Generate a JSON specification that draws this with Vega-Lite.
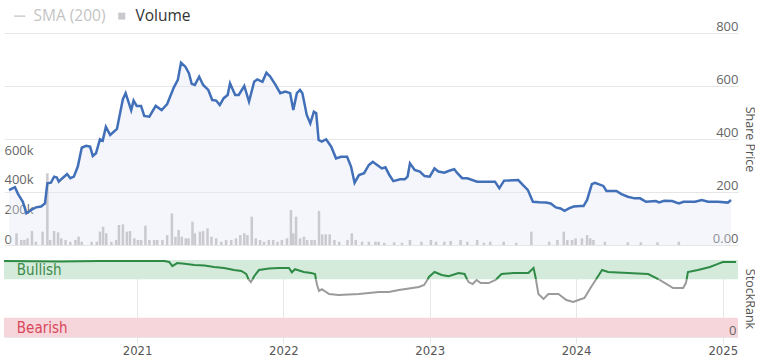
{
  "$schema": "https://vega.github.io/schema/vega-lite/v6.json",
  "padding": {"left": 0, "top": 8, "right": 0, "bottom": 0},
  "background": "white",
  "spacing": 11,
  "config": {"view": {"stroke": null}, "font": "Open Sans"},
  "datasets": {
    "price": [
      {"date":"2020-02-04","price":207},{"date":"2020-02-19","price":218},{"date":"2020-02-27","price":192},{"date":"2020-03-10","price":163},{"date":"2020-03-19","price":120},{"date":"2020-03-31","price":132},{"date":"2020-04-12","price":142},{"date":"2020-04-25","price":145},{"date":"2020-05-05","price":157},{"date":"2020-05-11","price":233},{"date":"2020-05-20","price":235},{"date":"2020-05-28","price":258},{"date":"2020-06-04","price":255},{"date":"2020-06-09","price":239},{"date":"2020-06-18","price":252},{"date":"2020-06-30","price":268},{"date":"2020-07-08","price":252},{"date":"2020-07-17","price":258},{"date":"2020-07-27","price":296},{"date":"2020-08-06","price":367},{"date":"2020-08-17","price":374},{"date":"2020-08-27","price":371},{"date":"2020-09-03","price":336},{"date":"2020-09-11","price":346},{"date":"2020-09-21","price":399},{"date":"2020-09-28","price":394},{"date":"2020-10-06","price":446},{"date":"2020-10-17","price":415},{"date":"2020-11-03","price":438},{"date":"2020-11-18","price":550},{"date":"2020-11-25","price":573},{"date":"2020-12-09","price":509},{"date":"2020-12-15","price":545},{"date":"2020-12-23","price":525},{"date":"2021-01-03","price":525},{"date":"2021-01-11","price":487},{"date":"2021-01-24","price":484},{"date":"2021-02-09","price":525},{"date":"2021-02-24","price":509},{"date":"2021-03-10","price":532},{"date":"2021-03-27","price":595},{"date":"2021-04-06","price":623},{"date":"2021-04-14","price":688},{"date":"2021-04-25","price":673},{"date":"2021-05-04","price":648},{"date":"2021-05-11","price":608},{"date":"2021-05-19","price":604},{"date":"2021-05-30","price":635},{"date":"2021-06-09","price":604},{"date":"2021-06-22","price":585},{"date":"2021-07-02","price":547},{"date":"2021-07-12","price":545},{"date":"2021-07-21","price":528},{"date":"2021-07-31","price":554},{"date":"2021-08-10","price":566},{"date":"2021-08-16","price":610},{"date":"2021-08-29","price":566},{"date":"2021-09-07","price":566},{"date":"2021-09-21","price":600},{"date":"2021-10-03","price":541},{"date":"2021-10-16","price":616},{"date":"2021-10-24","price":625},{"date":"2021-11-06","price":616},{"date":"2021-11-16","price":650},{"date":"2021-11-26","price":635},{"date":"2021-12-09","price":604},{"date":"2021-12-21","price":573},{"date":"2022-01-03","price":579},{"date":"2022-01-15","price":573},{"date":"2022-01-23","price":509},{"date":"2022-02-01","price":573},{"date":"2022-02-09","price":585},{"date":"2022-02-15","price":573},{"date":"2022-02-26","price":491},{"date":"2022-03-07","price":459},{"date":"2022-03-16","price":503},{"date":"2022-03-22","price":497},{"date":"2022-03-28","price":396},{"date":"2022-04-05","price":390},{"date":"2022-04-16","price":399},{"date":"2022-04-29","price":371},{"date":"2022-05-11","price":327},{"date":"2022-05-24","price":333},{"date":"2022-06-08","price":333},{"date":"2022-06-18","price":296},{"date":"2022-06-27","price":235},{"date":"2022-07-08","price":264},{"date":"2022-07-21","price":271},{"date":"2022-08-02","price":302},{"date":"2022-08-12","price":314},{"date":"2022-08-23","price":302},{"date":"2022-09-04","price":289},{"date":"2022-09-13","price":293},{"date":"2022-09-23","price":264},{"date":"2022-10-03","price":241},{"date":"2022-10-20","price":248},{"date":"2022-11-01","price":248},{"date":"2022-11-08","price":258},{"date":"2022-11-14","price":308},{"date":"2022-11-26","price":283},{"date":"2022-12-09","price":277},{"date":"2022-12-21","price":260},{"date":"2023-01-03","price":258},{"date":"2023-01-15","price":289},{"date":"2023-01-25","price":277},{"date":"2023-02-09","price":273},{"date":"2023-02-21","price":280},{"date":"2023-03-06","price":286},{"date":"2023-03-14","price":271},{"date":"2023-03-26","price":252},{"date":"2023-04-08","price":252},{"date":"2023-05-03","price":239},{"date":"2023-06-17","price":239},{"date":"2023-06-28","price":214},{"date":"2023-07-10","price":243},{"date":"2023-08-15","price":245},{"date":"2023-08-27","price":226},{"date":"2023-09-08","price":208},{"date":"2023-09-21","price":163},{"date":"2023-10-07","price":161},{"date":"2023-10-24","price":160},{"date":"2023-11-05","price":157},{"date":"2023-11-18","price":142},{"date":"2023-11-30","price":138},{"date":"2023-12-10","price":129},{"date":"2023-12-21","price":138},{"date":"2024-01-02","price":145},{"date":"2024-01-19","price":147},{"date":"2024-01-27","price":147},{"date":"2024-02-05","price":170},{"date":"2024-02-17","price":230},{"date":"2024-02-25","price":235},{"date":"2024-03-17","price":223},{"date":"2024-03-25","price":204},{"date":"2024-04-19","price":204},{"date":"2024-05-02","price":192},{"date":"2024-05-18","price":182},{"date":"2024-06-04","price":176},{"date":"2024-06-18","price":176},{"date":"2024-07-03","price":163},{"date":"2024-07-28","price":166},{"date":"2024-08-05","price":161},{"date":"2024-08-18","price":167},{"date":"2024-09-07","price":166},{"date":"2024-09-24","price":157},{"date":"2024-10-06","price":163},{"date":"2024-11-04","price":163},{"date":"2024-11-21","price":170},{"date":"2024-12-07","price":163},{"date":"2025-01-01","price":163},{"date":"2025-01-26","price":160},{"date":"2025-02-03","price":170}
    ],
    "volume": [
      {"date":"2020-02-23","vol":79000},{"date":"2020-03-06","vol":34000},{"date":"2020-03-14","vol":34000},{"date":"2020-03-22","vol":45000},{"date":"2020-04-02","vol":94000},{"date":"2020-04-12","vol":22000},{"date":"2020-04-29","vol":90000},{"date":"2020-05-11","vol":483000},{"date":"2020-05-18","vol":34000},{"date":"2020-05-28","vol":94000},{"date":"2020-06-07","vol":85000},{"date":"2020-06-15","vol":45000},{"date":"2020-06-26","vol":34000},{"date":"2020-07-08","vol":22000},{"date":"2020-07-21","vol":34000},{"date":"2020-07-29","vol":56000},{"date":"2020-08-06","vol":22000},{"date":"2020-08-31","vol":22000},{"date":"2020-09-13","vol":22000},{"date":"2020-09-21","vol":90000},{"date":"2020-09-29","vol":123000},{"date":"2020-10-07","vol":79000},{"date":"2020-10-20","vol":22000},{"date":"2020-11-01","vol":34000},{"date":"2020-11-08","vol":135000},{"date":"2020-11-18","vol":139000},{"date":"2020-11-28","vol":90000},{"date":"2020-12-06","vol":94000},{"date":"2020-12-17","vol":45000},{"date":"2020-12-26","vol":34000},{"date":"2021-01-03","vol":34000},{"date":"2021-01-14","vol":130000},{"date":"2021-01-24","vol":34000},{"date":"2021-02-05","vol":34000},{"date":"2021-02-13","vol":34000},{"date":"2021-02-26","vol":34000},{"date":"2021-03-10","vol":67000},{"date":"2021-03-22","vol":213000},{"date":"2021-03-31","vol":56000},{"date":"2021-04-08","vol":101000},{"date":"2021-04-16","vol":56000},{"date":"2021-04-26","vol":45000},{"date":"2021-05-03","vol":45000},{"date":"2021-05-13","vol":157000},{"date":"2021-05-19","vol":79000},{"date":"2021-06-01","vol":90000},{"date":"2021-06-09","vol":94000},{"date":"2021-06-20","vol":112000},{"date":"2021-06-30","vol":56000},{"date":"2021-07-12","vol":45000},{"date":"2021-07-25","vol":22000},{"date":"2021-08-06","vol":34000},{"date":"2021-08-19","vol":34000},{"date":"2021-08-31","vol":45000},{"date":"2021-09-11","vol":67000},{"date":"2021-09-21","vol":79000},{"date":"2021-09-29","vol":67000},{"date":"2021-10-10","vol":191000},{"date":"2021-10-20","vol":45000},{"date":"2021-10-31","vol":34000},{"date":"2021-11-10","vol":22000},{"date":"2021-11-22","vol":34000},{"date":"2021-12-03","vol":34000},{"date":"2021-12-14","vol":22000},{"date":"2021-12-25","vol":34000},{"date":"2022-01-07","vol":45000},{"date":"2022-01-17","vol":236000},{"date":"2022-01-23","vol":79000},{"date":"2022-01-30","vol":191000},{"date":"2022-02-09","vol":45000},{"date":"2022-02-19","vol":56000},{"date":"2022-02-27","vol":34000},{"date":"2022-03-10","vol":34000},{"date":"2022-03-18","vol":34000},{"date":"2022-03-29","vol":229000},{"date":"2022-04-06","vol":72000},{"date":"2022-04-15","vol":72000},{"date":"2022-04-25","vol":72000},{"date":"2022-05-07","vol":34000},{"date":"2022-05-19","vol":22000},{"date":"2022-06-09","vol":34000},{"date":"2022-06-20","vol":79000},{"date":"2022-06-30","vol":34000},{"date":"2022-07-16","vol":22000},{"date":"2022-08-02","vol":22000},{"date":"2022-08-19","vol":22000},{"date":"2022-08-27","vol":22000},{"date":"2022-09-10","vol":15000},{"date":"2022-10-05","vol":18000},{"date":"2022-10-25","vol":15000},{"date":"2022-11-14","vol":34000},{"date":"2022-12-13","vol":22000},{"date":"2023-01-06","vol":34000},{"date":"2023-01-19","vol":22000},{"date":"2023-02-09","vol":22000},{"date":"2023-02-25","vol":27000},{"date":"2023-03-22","vol":34000},{"date":"2023-04-08","vol":22000},{"date":"2023-05-03","vol":34000},{"date":"2023-05-20","vol":15000},{"date":"2023-06-05","vol":22000},{"date":"2023-07-09","vol":22000},{"date":"2023-08-10","vol":15000},{"date":"2023-09-17","vol":90000},{"date":"2023-11-01","vol":22000},{"date":"2023-11-22","vol":34000},{"date":"2023-12-08","vol":90000},{"date":"2023-12-17","vol":34000},{"date":"2023-12-29","vol":34000},{"date":"2024-01-07","vol":45000},{"date":"2024-01-23","vol":45000},{"date":"2024-02-05","vol":67000},{"date":"2024-02-13","vol":45000},{"date":"2024-02-21","vol":34000},{"date":"2024-03-21","vol":22000},{"date":"2024-05-18","vol":18000},{"date":"2024-06-20","vol":18000},{"date":"2024-08-01","vol":18000},{"date":"2024-09-24","vol":22000}
    ],
    "rank": [
      {"date":"2020-02-04","rank":98.7,"seg":"A","status":"bull"},{"date":"2020-06-22","rank":98,"seg":"A","status":"bull"},{"date":"2020-09-29","rank":98.7,"seg":"A","status":"bull"},{"date":"2021-03-10","rank":98.7,"seg":"A","status":"bull"},{"date":"2021-03-22","rank":97.4,"seg":"A","status":"bull"},{"date":"2021-03-30","rank":92,"seg":"A","status":"bull"},{"date":"2021-04-11","rank":96,"seg":"A","status":"bull"},{"date":"2021-04-29","rank":95,"seg":"A","status":"bull"},{"date":"2021-05-24","rank":93.5,"seg":"A","status":"bull"},{"date":"2021-06-18","rank":93,"seg":"A","status":"bull"},{"date":"2021-07-12","rank":91,"seg":"A","status":"bull"},{"date":"2021-08-06","rank":89.6,"seg":"A","status":"bull"},{"date":"2021-08-31","rank":87,"seg":"A","status":"bull"},{"date":"2021-09-18","rank":85.7,"seg":"A","status":"bull"},{"date":"2021-09-30","rank":82,"seg":"A","status":"bull"},{"date":"2021-10-06","rank":75,"seg":"A","status":"bull"},
      {"date":"2021-10-06","rank":75,"seg":"B","status":"bear"},{"date":"2021-10-12","rank":71.4,"seg":"B","status":"bear"},{"date":"2021-10-16","rank":75,"seg":"B","status":"bear"},
      {"date":"2021-10-16","rank":75,"seg":"C","status":"bull"},{"date":"2021-10-20","rank":79,"seg":"C","status":"bull"},{"date":"2021-11-01","rank":87,"seg":"C","status":"bull"},{"date":"2021-11-26","rank":89,"seg":"C","status":"bull"},{"date":"2021-12-21","rank":89.6,"seg":"C","status":"bull"},{"date":"2022-01-15","rank":89.6,"seg":"C","status":"bull"},{"date":"2022-01-22","rank":84,"seg":"C","status":"bull"},{"date":"2022-01-30","rank":88,"seg":"C","status":"bull"},{"date":"2022-02-21","rank":84.4,"seg":"C","status":"bull"},{"date":"2022-03-11","rank":83,"seg":"C","status":"bull"},{"date":"2022-03-21","rank":81.8,"seg":"C","status":"bull"},{"date":"2022-03-23","rank":75,"seg":"C","status":"bull"},
      {"date":"2022-03-23","rank":75,"seg":"D","status":"bear"},{"date":"2022-03-26","rank":67.5,"seg":"D","status":"bear"},{"date":"2022-03-31","rank":59.7,"seg":"D","status":"bear"},{"date":"2022-04-07","rank":62,"seg":"D","status":"bear"},{"date":"2022-04-25","rank":55.8,"seg":"D","status":"bear"},{"date":"2022-05-19","rank":54.5,"seg":"D","status":"bear"},{"date":"2022-07-08","rank":55.8,"seg":"D","status":"bear"},{"date":"2022-08-27","rank":58.4,"seg":"D","status":"bear"},{"date":"2022-09-21","rank":58.4,"seg":"D","status":"bear"},{"date":"2022-10-16","rank":61,"seg":"D","status":"bear"},{"date":"2022-12-05","rank":65,"seg":"D","status":"bear"},{"date":"2022-12-18","rank":67.5,"seg":"D","status":"bear"},{"date":"2022-12-27","rank":75,"seg":"D","status":"bear"},
      {"date":"2022-12-27","rank":75,"seg":"E","status":"bull"},{"date":"2022-12-30","rank":78,"seg":"E","status":"bull"},{"date":"2023-01-13","rank":84.4,"seg":"E","status":"bull"},{"date":"2023-01-31","rank":80.5,"seg":"E","status":"bull"},{"date":"2023-02-17","rank":79,"seg":"E","status":"bull"},{"date":"2023-03-14","rank":83,"seg":"E","status":"bull"},{"date":"2023-03-29","rank":81.8,"seg":"E","status":"bull"},{"date":"2023-04-04","rank":75,"seg":"E","status":"bull"},
      {"date":"2023-04-04","rank":75,"seg":"F","status":"bear"},{"date":"2023-04-08","rank":71.4,"seg":"F","status":"bear"},{"date":"2023-04-18","rank":68.8,"seg":"F","status":"bear"},{"date":"2023-04-28","rank":74,"seg":"F","status":"bear"},{"date":"2023-05-08","rank":70,"seg":"F","status":"bear"},{"date":"2023-05-28","rank":70,"seg":"F","status":"bear"},{"date":"2023-06-14","rank":74,"seg":"F","status":"bear"},{"date":"2023-06-16","rank":75,"seg":"F","status":"bear"},
      {"date":"2023-06-16","rank":75,"seg":"G","status":"bull"},{"date":"2023-06-29","rank":81.8,"seg":"G","status":"bull"},{"date":"2023-07-29","rank":83,"seg":"G","status":"bull"},{"date":"2023-09-04","rank":83,"seg":"G","status":"bull"},{"date":"2023-09-17","rank":89.6,"seg":"G","status":"bull"},{"date":"2023-09-23","rank":75,"seg":"G","status":"bull"},
      {"date":"2023-09-23","rank":75,"seg":"H","status":"bear"},{"date":"2023-09-24","rank":71.4,"seg":"H","status":"bear"},{"date":"2023-09-29","rank":55.8,"seg":"H","status":"bear"},{"date":"2023-10-12","rank":49.4,"seg":"H","status":"bear"},{"date":"2023-10-24","rank":55.8,"seg":"H","status":"bear"},{"date":"2023-11-18","rank":55.8,"seg":"H","status":"bear"},{"date":"2023-12-08","rank":48,"seg":"H","status":"bear"},{"date":"2023-12-25","rank":45.5,"seg":"H","status":"bear"},{"date":"2024-01-07","rank":48,"seg":"H","status":"bear"},{"date":"2024-01-22","rank":50.6,"seg":"H","status":"bear"},{"date":"2024-02-06","rank":63.6,"seg":"H","status":"bear"},{"date":"2024-02-20","rank":75,"seg":"H","status":"bear"},
      {"date":"2024-02-20","rank":75,"seg":"I","status":"bull"},{"date":"2024-03-06","rank":87,"seg":"I","status":"bull"},{"date":"2024-03-21","rank":84.4,"seg":"I","status":"bull"},{"date":"2024-05-10","rank":83,"seg":"I","status":"bull"},{"date":"2024-06-29","rank":81.8,"seg":"I","status":"bull"},{"date":"2024-07-24","rank":75.3,"seg":"I","status":"bull"},{"date":"2024-07-25","rank":75,"seg":"I","status":"bull"},
      {"date":"2024-07-25","rank":75,"seg":"J","status":"bear"},{"date":"2024-08-10","rank":70,"seg":"J","status":"bear"},{"date":"2024-08-30","rank":63.6,"seg":"J","status":"bear"},{"date":"2024-09-24","rank":63.6,"seg":"J","status":"bear"},{"date":"2024-10-01","rank":70,"seg":"J","status":"bear"},{"date":"2024-10-03","rank":75,"seg":"J","status":"bear"},
      {"date":"2024-10-03","rank":75,"seg":"K","status":"bull"},{"date":"2024-10-06","rank":84.4,"seg":"K","status":"bull"},{"date":"2024-10-31","rank":87,"seg":"K","status":"bull"},{"date":"2024-11-30","rank":91,"seg":"K","status":"bull"},{"date":"2024-12-20","rank":95,"seg":"K","status":"bull"},{"date":"2025-01-01","rank":97.4,"seg":"K","status":"bull"},{"date":"2025-02-03","rank":97.4,"seg":"K","status":"bull"}
    ],
    "bands": [{"lo":75,"hi":100,"zone":"Bullish"},{"lo":0,"hi":25,"zone":"Bearish"}],
    "bandLabels": [{"date":"2020-03-07","rank":86.5,"zone":"Bullish"},{"date":"2020-03-07","rank":11.5,"zone":"Bearish"}]
  },
  "vconcat": [
    {
      "width": 734,
      "height": 212,
      "layer": [
        {
          "data": {"name": "price"},
          "mark": {"type": "area", "color": "#dfe5f3", "opacity": 0.35},
          "encoding": {
            "x": {"field": "date", "type": "temporal", "scale": {"domain": [{"year":2020,"month":2,"date":4},{"year":2025,"month":2,"date":8}]}, "axis": null},
            "y": {"field": "price", "type": "quantitative", "scale": {"domain": [0, 800]},
              "axis": {"orient": "right", "values": [0,200,400,600,800], "grid": true, "gridColor": "#e6e6e6", "domain": false, "ticks": false, "tickSize": 0,
                "labelAlign": "right", "labelBaseline": "alphabetic", "labelOffset": -3, "labelPadding": 0, "labelColor": "#666666", "labelFontSize": 13, "labelFont": "Open Sans",
                "labelFlush": false, "labelBound": false, "labelOverlap": false,
                "labelExpr": "datum.value == 0 ? '0.00' : datum.label",
                "title": "Share Price", "titleAngle": 90, "titleFontSize": 12.5, "titleFontWeight": "normal", "titleColor": "#555555", "titleFont": "Open Sans", "titlePadding": 4}}
          }
        },
        {
          "data": {"name": "volume"},
          "mark": {"type": "bar", "width": 2.5},
          "encoding": {
            "x": {"field": "date", "type": "temporal", "scale": {"domain": [{"year":2020,"month":2,"date":4},{"year":2025,"month":2,"date":8}]}, "axis": null},
            "y": {"field": "vol", "type": "quantitative", "scale": {"domain": [0, 1430000]},
              "axis": {"orient": "left", "values": [0,200000,400000,600000], "grid": false, "domain": false, "ticks": false, "tickSize": 0,
                "labelAlign": "left", "labelBaseline": "alphabetic", "labelOffset": -2, "labelPadding": 0, "labelColor": "#666666", "labelFontSize": 13, "labelFont": "Open Sans",
                "labelExpr": "datum.value == 0 ? '0' : format(datum.value / 1000, 'd') + 'k'",
                "labelFlush": false, "labelBound": false, "labelOverlap": false, "title": null}},
            "color": {"datum": "Volume", "type": "nominal", "scale": {"domain": ["SMA (200)", "Volume"], "range": ["#cccccc", "#c9c9ce"]},
              "legend": {"orient": "none", "legendX": 8, "legendY": -25, "direction": "horizontal", "title": null,
                "labelFont": "Open Sans", "labelFontSize": 15.5, "symbolSize": 100, "columnPadding": 8, "labelOffset": 6,
                "encode": {
                  "symbols": {"update": {
                    "shape": {"signal": "datum.value === 'SMA (200)' ? 'stroke' : 'square'"},
                    "size": {"signal": "datum.value === 'SMA (200)' ? 121 : 49"},
                    "stroke": {"signal": "datum.value === 'SMA (200)' ? '#cccccc' : 'transparent'"},
                    "strokeWidth": {"value": 1.5},
                    "fill": {"signal": "datum.value === 'SMA (200)' ? 'transparent' : '#a6a6ae'"},
                    "opacity": {"value": 1}}},
                  "labels": {"update": {"fill": {"signal": "datum.value === 'SMA (200)' ? '#c4c4c4' : '#333333'"}}}
                }}}
          }
        },
        {
          "data": {"name": "price"},
          "mark": {"type": "line", "color": "#4170b9", "strokeWidth": 2.5},
          "encoding": {
            "x": {"field": "date", "type": "temporal", "scale": {"domain": [{"year":2020,"month":2,"date":4},{"year":2025,"month":2,"date":8}]}, "axis": null},
            "y": {"field": "price", "type": "quantitative", "scale": {"domain": [0, 800]}, "axis": null}
          }
        }
      ],
      "resolve": {"scale": {"y": "independent"}}
    },
    {
      "width": 734,
      "height": 77,
      "encoding": {
        "x": {"field": "date", "type": "temporal", "scale": {"domain": [{"year":2020,"month":2,"date":4},{"year":2025,"month":2,"date":8}]},
          "axis": {"orient": "bottom", "values": [{"year":2021,"month":1,"date":1},{"year":2022,"month":1,"date":1},{"year":2023,"month":1,"date":1},{"year":2024,"month":1,"date":1},{"year":2025,"month":1,"date":1}],
            "format": "%Y", "grid": true, "gridColor": "#e6e6e6", "domain": true, "domainColor": "#e6e6e6", "tickColor": "#e6e6e6", "tickSize": 6,
            "labelFont": "'Liberation Sans Narrow', 'DejaVu Sans Condensed', 'Roboto Condensed', 'Open Sans', sans-serif", "labelFontSize": 13, "labelColor": "#555555", "labelPadding": 1, "labelFlush": false, "title": null}},
        "y": {"field": "rank", "type": "quantitative", "scale": {"domain": [0, 100]},
          "axis": {"orient": "right", "values": [0], "grid": false, "domain": false, "ticks": false, "tickSize": 0, "zindex": 1,
            "labelAlign": "right", "labelBaseline": "alphabetic", "labelOffset": -3, "labelPadding": -2, "labelColor": "#666666", "labelFontSize": 13, "labelFont": "Open Sans",
            "labelFlush": false, "labelBound": false,
            "title": "StockRank", "titleAngle": 90, "titleFontSize": 12.5, "titleFontWeight": "normal", "titleColor": "#555555", "titleFont": "Open Sans", "titlePadding": 4}}
      },
      "layer": [
        {
          "data": {"name": "bands"},
          "mark": {"type": "rect"},
          "encoding": {
            "x": null,
            "y": {"field": "lo", "type": "quantitative", "scale": {"domain": [0, 100]},
              "axis": {"orient": "right", "values": [0], "grid": false, "domain": false, "ticks": false, "tickSize": 0, "zindex": 1,
                "labelAlign": "right", "labelBaseline": "alphabetic", "labelOffset": -3, "labelPadding": -2, "labelColor": "#666666", "labelFontSize": 13, "labelFont": "Open Sans",
                "labelFlush": false, "labelBound": false,
                "title": "StockRank", "titleAngle": 90, "titleFontSize": 12.5, "titleFontWeight": "normal", "titleColor": "#555555", "titleFont": "Open Sans", "titlePadding": 4}},
            "y2": {"field": "hi"},
            "color": {"field": "zone", "type": "nominal", "scale": {"domain": ["Bullish", "Bearish"], "range": ["#d4eadb", "#f6d6da"]}, "legend": null}
          }
        },
        {
          "data": {"name": "rank"},
          "mark": {"type": "line", "strokeWidth": 2},
          "encoding": {
            "detail": {"field": "seg"},
            "color": {"field": "status", "type": "nominal", "scale": {"domain": ["bull", "bear"], "range": ["#2e8b45", "#9b9b9b"]}, "legend": null}
          }
        },
        {
          "data": {"name": "bandLabels"},
          "mark": {"type": "text", "align": "left", "baseline": "middle", "fontSize": 15, "font": "'Liberation Sans Narrow', 'DejaVu Sans Condensed', 'Roboto Condensed', 'Open Sans', sans-serif"},
          "encoding": {
            "text": {"field": "zone"},
            "color": {"field": "zone", "type": "nominal", "scale": {"domain": ["Bullish", "Bearish"], "range": ["#3b8a47", "#d9465b"]}, "legend": null}
          }
        }
      ],
      "resolve": {"scale": {"color": "independent"}}
    }
  ]
}
